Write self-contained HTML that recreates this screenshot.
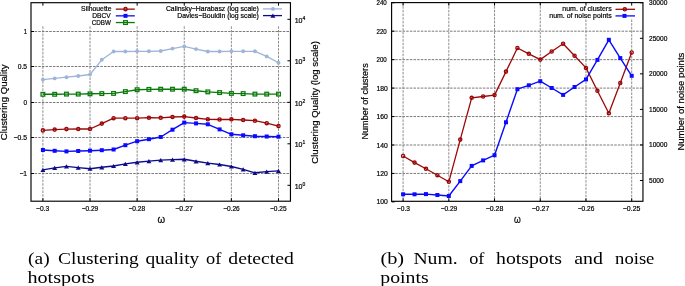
<!DOCTYPE html><html><head><meta charset="utf-8"><style>html,body{margin:0;padding:0;background:#fff;width:685px;height:286px;overflow:hidden}svg{display:block}.s text{font-family:"Liberation Sans",Arial,sans-serif;fill:#000;stroke:#000;stroke-width:0.2px}.s text.cap{font-family:"Liberation Serif","DejaVu Serif",serif;fill:#000;stroke:none}</style></head><body>
<svg class="s" width="685" height="286" viewBox="0 0 685 286">
<g id="gfx">
<line x1="42.90" y1="26.3" x2="42.90" y2="201.2" stroke="#8c8c8c" stroke-width="1" stroke-dasharray="2.5,1.15"/>
<line x1="90.02" y1="26.3" x2="90.02" y2="201.2" stroke="#8c8c8c" stroke-width="1" stroke-dasharray="2.5,1.15"/>
<line x1="137.14" y1="26.3" x2="137.14" y2="201.2" stroke="#8c8c8c" stroke-width="1" stroke-dasharray="2.5,1.15"/>
<line x1="184.26" y1="26.3" x2="184.26" y2="201.2" stroke="#8c8c8c" stroke-width="1" stroke-dasharray="2.5,1.15"/>
<line x1="231.38" y1="26.3" x2="231.38" y2="201.2" stroke="#8c8c8c" stroke-width="1" stroke-dasharray="2.5,1.15"/>
<line x1="278.50" y1="26.3" x2="278.50" y2="201.2" stroke="#8c8c8c" stroke-width="1" stroke-dasharray="2.5,1.15"/>
<line x1="31.0" y1="31.50" x2="290.45" y2="31.50" stroke="#7a7a7a" stroke-width="1" stroke-dasharray="2.5,1.15"/>
<line x1="31.0" y1="66.50" x2="290.45" y2="66.50" stroke="#7a7a7a" stroke-width="1" stroke-dasharray="2.5,1.15"/>
<line x1="31.0" y1="102.50" x2="290.45" y2="102.50" stroke="#7a7a7a" stroke-width="1" stroke-dasharray="2.5,1.15"/>
<line x1="31.0" y1="137.50" x2="290.45" y2="137.50" stroke="#7a7a7a" stroke-width="1" stroke-dasharray="2.5,1.15"/>
<line x1="31.0" y1="173.50" x2="290.45" y2="173.50" stroke="#7a7a7a" stroke-width="1" stroke-dasharray="2.5,1.15"/>
<polyline points="42.90,79.60 54.68,78.40 66.46,77.20 78.24,76.00 90.02,74.50 101.80,59.80 113.58,51.50 125.36,51.50 137.14,51.30 148.92,51.30 160.70,51.00 172.48,48.60 184.26,46.40 196.04,49.10 207.82,51.50 219.60,51.50 231.38,51.30 243.16,51.30 254.94,51.30 266.72,56.40 278.50,62.80" fill="none" stroke="#9fb5d8" stroke-width="1.3" stroke-linejoin="round"/>
<circle cx="42.90" cy="79.60" r="1.95" fill="#9fb5d8"/>
<circle cx="54.68" cy="78.40" r="1.95" fill="#9fb5d8"/>
<circle cx="66.46" cy="77.20" r="1.95" fill="#9fb5d8"/>
<circle cx="78.24" cy="76.00" r="1.95" fill="#9fb5d8"/>
<circle cx="90.02" cy="74.50" r="1.95" fill="#9fb5d8"/>
<circle cx="101.80" cy="59.80" r="1.95" fill="#9fb5d8"/>
<circle cx="113.58" cy="51.50" r="1.95" fill="#9fb5d8"/>
<circle cx="125.36" cy="51.50" r="1.95" fill="#9fb5d8"/>
<circle cx="137.14" cy="51.30" r="1.95" fill="#9fb5d8"/>
<circle cx="148.92" cy="51.30" r="1.95" fill="#9fb5d8"/>
<circle cx="160.70" cy="51.00" r="1.95" fill="#9fb5d8"/>
<circle cx="172.48" cy="48.60" r="1.95" fill="#9fb5d8"/>
<circle cx="184.26" cy="46.40" r="1.95" fill="#9fb5d8"/>
<circle cx="196.04" cy="49.10" r="1.95" fill="#9fb5d8"/>
<circle cx="207.82" cy="51.50" r="1.95" fill="#9fb5d8"/>
<circle cx="219.60" cy="51.50" r="1.95" fill="#9fb5d8"/>
<circle cx="231.38" cy="51.30" r="1.95" fill="#9fb5d8"/>
<circle cx="243.16" cy="51.30" r="1.95" fill="#9fb5d8"/>
<circle cx="254.94" cy="51.30" r="1.95" fill="#9fb5d8"/>
<circle cx="266.72" cy="56.40" r="1.95" fill="#9fb5d8"/>
<circle cx="278.50" cy="62.80" r="1.95" fill="#9fb5d8"/>
<polyline points="42.90,94.30 54.68,94.30 66.46,94.10 78.24,94.10 90.02,93.80 101.80,93.60 113.58,93.40 125.36,91.60 137.14,89.70 148.92,89.40 160.70,89.20 172.48,89.20 184.26,89.20 196.04,90.70 207.82,91.90 219.60,92.60 231.38,93.40 243.16,93.60 254.94,94.10 266.72,94.10 278.50,94.10" fill="none" stroke="#087a08" stroke-width="1.4" stroke-linejoin="round"/>
<rect x="41.05" y="92.45" width="3.7" height="3.7" fill="none" stroke="#087a08" stroke-width="1.25"/>
<rect x="52.83" y="92.45" width="3.7" height="3.7" fill="none" stroke="#087a08" stroke-width="1.25"/>
<rect x="64.61" y="92.25" width="3.7" height="3.7" fill="none" stroke="#087a08" stroke-width="1.25"/>
<rect x="76.39" y="92.25" width="3.7" height="3.7" fill="none" stroke="#087a08" stroke-width="1.25"/>
<rect x="88.17" y="91.95" width="3.7" height="3.7" fill="none" stroke="#087a08" stroke-width="1.25"/>
<rect x="99.95" y="91.75" width="3.7" height="3.7" fill="none" stroke="#087a08" stroke-width="1.25"/>
<rect x="111.73" y="91.55" width="3.7" height="3.7" fill="none" stroke="#087a08" stroke-width="1.25"/>
<rect x="123.51" y="89.75" width="3.7" height="3.7" fill="none" stroke="#087a08" stroke-width="1.25"/>
<rect x="135.29" y="87.85" width="3.7" height="3.7" fill="none" stroke="#087a08" stroke-width="1.25"/>
<rect x="147.07" y="87.55" width="3.7" height="3.7" fill="none" stroke="#087a08" stroke-width="1.25"/>
<rect x="158.85" y="87.35" width="3.7" height="3.7" fill="none" stroke="#087a08" stroke-width="1.25"/>
<rect x="170.63" y="87.35" width="3.7" height="3.7" fill="none" stroke="#087a08" stroke-width="1.25"/>
<rect x="182.41" y="87.35" width="3.7" height="3.7" fill="none" stroke="#087a08" stroke-width="1.25"/>
<rect x="194.19" y="88.85" width="3.7" height="3.7" fill="none" stroke="#087a08" stroke-width="1.25"/>
<rect x="205.97" y="90.05" width="3.7" height="3.7" fill="none" stroke="#087a08" stroke-width="1.25"/>
<rect x="217.75" y="90.75" width="3.7" height="3.7" fill="none" stroke="#087a08" stroke-width="1.25"/>
<rect x="229.53" y="91.55" width="3.7" height="3.7" fill="none" stroke="#087a08" stroke-width="1.25"/>
<rect x="241.31" y="91.75" width="3.7" height="3.7" fill="none" stroke="#087a08" stroke-width="1.25"/>
<rect x="253.09" y="92.25" width="3.7" height="3.7" fill="none" stroke="#087a08" stroke-width="1.25"/>
<rect x="264.87" y="92.25" width="3.7" height="3.7" fill="none" stroke="#087a08" stroke-width="1.25"/>
<rect x="276.65" y="92.25" width="3.7" height="3.7" fill="none" stroke="#087a08" stroke-width="1.25"/>
<polyline points="42.90,130.40 54.68,129.60 66.46,129.10 78.24,129.00 90.02,129.00 101.80,123.60 113.58,118.20 125.36,118.20 137.14,118.20 148.92,117.70 160.70,117.80 172.48,117.00 184.26,116.60 196.04,118.00 207.82,119.30 219.60,119.50 231.38,119.30 243.16,120.00 254.94,120.70 266.72,123.20 278.50,126.10" fill="none" stroke="#9c0808" stroke-width="1.3" stroke-linejoin="round"/>
<circle cx="42.90" cy="130.40" r="1.6" fill="none" stroke="#9c0808" stroke-width="1.35"/>
<circle cx="54.68" cy="129.60" r="1.6" fill="none" stroke="#9c0808" stroke-width="1.35"/>
<circle cx="66.46" cy="129.10" r="1.6" fill="none" stroke="#9c0808" stroke-width="1.35"/>
<circle cx="78.24" cy="129.00" r="1.6" fill="none" stroke="#9c0808" stroke-width="1.35"/>
<circle cx="90.02" cy="129.00" r="1.6" fill="none" stroke="#9c0808" stroke-width="1.35"/>
<circle cx="101.80" cy="123.60" r="1.6" fill="none" stroke="#9c0808" stroke-width="1.35"/>
<circle cx="113.58" cy="118.20" r="1.6" fill="none" stroke="#9c0808" stroke-width="1.35"/>
<circle cx="125.36" cy="118.20" r="1.6" fill="none" stroke="#9c0808" stroke-width="1.35"/>
<circle cx="137.14" cy="118.20" r="1.6" fill="none" stroke="#9c0808" stroke-width="1.35"/>
<circle cx="148.92" cy="117.70" r="1.6" fill="none" stroke="#9c0808" stroke-width="1.35"/>
<circle cx="160.70" cy="117.80" r="1.6" fill="none" stroke="#9c0808" stroke-width="1.35"/>
<circle cx="172.48" cy="117.00" r="1.6" fill="none" stroke="#9c0808" stroke-width="1.35"/>
<circle cx="184.26" cy="116.60" r="1.6" fill="none" stroke="#9c0808" stroke-width="1.35"/>
<circle cx="196.04" cy="118.00" r="1.6" fill="none" stroke="#9c0808" stroke-width="1.35"/>
<circle cx="207.82" cy="119.30" r="1.6" fill="none" stroke="#9c0808" stroke-width="1.35"/>
<circle cx="219.60" cy="119.50" r="1.6" fill="none" stroke="#9c0808" stroke-width="1.35"/>
<circle cx="231.38" cy="119.30" r="1.6" fill="none" stroke="#9c0808" stroke-width="1.35"/>
<circle cx="243.16" cy="120.00" r="1.6" fill="none" stroke="#9c0808" stroke-width="1.35"/>
<circle cx="254.94" cy="120.70" r="1.6" fill="none" stroke="#9c0808" stroke-width="1.35"/>
<circle cx="266.72" cy="123.20" r="1.6" fill="none" stroke="#9c0808" stroke-width="1.35"/>
<circle cx="278.50" cy="126.10" r="1.6" fill="none" stroke="#9c0808" stroke-width="1.35"/>
<polyline points="42.90,150.00 54.68,150.80 66.46,151.40 78.24,151.00 90.02,150.70 101.80,150.20 113.58,149.50 125.36,145.20 137.14,141.20 148.92,139.20 160.70,137.00 172.48,129.70 184.26,122.60 196.04,123.40 207.82,124.30 219.60,129.40 231.38,134.30 243.16,135.30 254.94,136.20 266.72,136.50 278.50,136.70" fill="none" stroke="#0a0aff" stroke-width="1.4" stroke-linejoin="round"/>
<rect x="40.90" y="148.00" width="4.0" height="4.0" fill="#0a0aff"/>
<rect x="52.68" y="148.80" width="4.0" height="4.0" fill="#0a0aff"/>
<rect x="64.46" y="149.40" width="4.0" height="4.0" fill="#0a0aff"/>
<rect x="76.24" y="149.00" width="4.0" height="4.0" fill="#0a0aff"/>
<rect x="88.02" y="148.70" width="4.0" height="4.0" fill="#0a0aff"/>
<rect x="99.80" y="148.20" width="4.0" height="4.0" fill="#0a0aff"/>
<rect x="111.58" y="147.50" width="4.0" height="4.0" fill="#0a0aff"/>
<rect x="123.36" y="143.20" width="4.0" height="4.0" fill="#0a0aff"/>
<rect x="135.14" y="139.20" width="4.0" height="4.0" fill="#0a0aff"/>
<rect x="146.92" y="137.20" width="4.0" height="4.0" fill="#0a0aff"/>
<rect x="158.70" y="135.00" width="4.0" height="4.0" fill="#0a0aff"/>
<rect x="170.48" y="127.70" width="4.0" height="4.0" fill="#0a0aff"/>
<rect x="182.26" y="120.60" width="4.0" height="4.0" fill="#0a0aff"/>
<rect x="194.04" y="121.40" width="4.0" height="4.0" fill="#0a0aff"/>
<rect x="205.82" y="122.30" width="4.0" height="4.0" fill="#0a0aff"/>
<rect x="217.60" y="127.40" width="4.0" height="4.0" fill="#0a0aff"/>
<rect x="229.38" y="132.30" width="4.0" height="4.0" fill="#0a0aff"/>
<rect x="241.16" y="133.30" width="4.0" height="4.0" fill="#0a0aff"/>
<rect x="252.94" y="134.20" width="4.0" height="4.0" fill="#0a0aff"/>
<rect x="264.72" y="134.50" width="4.0" height="4.0" fill="#0a0aff"/>
<rect x="276.50" y="134.70" width="4.0" height="4.0" fill="#0a0aff"/>
<polyline points="42.90,169.90 54.68,167.90 66.46,166.40 78.24,167.60 90.02,168.70 101.80,167.30 113.58,166.00 125.36,163.90 137.14,162.30 148.92,161.10 160.70,160.10 172.48,159.60 184.26,159.30 196.04,161.30 207.82,163.10 219.60,164.50 231.38,166.50 243.16,169.40 254.94,172.80 266.72,171.60 278.50,170.90" fill="none" stroke="#0c0c8a" stroke-width="1.4" stroke-linejoin="round"/>
<polygon points="40.40,172.00 45.40,172.00 42.90,167.80" fill="#0c0c8a"/>
<polygon points="52.18,170.00 57.18,170.00 54.68,165.80" fill="#0c0c8a"/>
<polygon points="63.96,168.50 68.96,168.50 66.46,164.30" fill="#0c0c8a"/>
<polygon points="75.74,169.70 80.74,169.70 78.24,165.50" fill="#0c0c8a"/>
<polygon points="87.52,170.80 92.52,170.80 90.02,166.60" fill="#0c0c8a"/>
<polygon points="99.30,169.40 104.30,169.40 101.80,165.20" fill="#0c0c8a"/>
<polygon points="111.08,168.10 116.08,168.10 113.58,163.90" fill="#0c0c8a"/>
<polygon points="122.86,166.00 127.86,166.00 125.36,161.80" fill="#0c0c8a"/>
<polygon points="134.64,164.40 139.64,164.40 137.14,160.20" fill="#0c0c8a"/>
<polygon points="146.42,163.20 151.42,163.20 148.92,159.00" fill="#0c0c8a"/>
<polygon points="158.20,162.20 163.20,162.20 160.70,158.00" fill="#0c0c8a"/>
<polygon points="169.98,161.70 174.98,161.70 172.48,157.50" fill="#0c0c8a"/>
<polygon points="181.76,161.40 186.76,161.40 184.26,157.20" fill="#0c0c8a"/>
<polygon points="193.54,163.40 198.54,163.40 196.04,159.20" fill="#0c0c8a"/>
<polygon points="205.32,165.20 210.32,165.20 207.82,161.00" fill="#0c0c8a"/>
<polygon points="217.10,166.60 222.10,166.60 219.60,162.40" fill="#0c0c8a"/>
<polygon points="228.88,168.60 233.88,168.60 231.38,164.40" fill="#0c0c8a"/>
<polygon points="240.66,171.50 245.66,171.50 243.16,167.30" fill="#0c0c8a"/>
<polygon points="252.44,174.90 257.44,174.90 254.94,170.70" fill="#0c0c8a"/>
<polygon points="264.22,173.70 269.22,173.70 266.72,169.50" fill="#0c0c8a"/>
<polygon points="276.00,173.00 281.00,173.00 278.50,168.80" fill="#0c0c8a"/>
<rect x="31.0" y="2.7" width="259.45" height="198.50" fill="none" stroke="#000" stroke-width="1.15"/>
<line x1="42.90" y1="201.2" x2="42.90" y2="198.2" stroke="#000" stroke-width="1"/>
<line x1="42.90" y1="2.7" x2="42.90" y2="5.7" stroke="#000" stroke-width="1"/>
<line x1="90.02" y1="201.2" x2="90.02" y2="198.2" stroke="#000" stroke-width="1"/>
<line x1="90.02" y1="2.7" x2="90.02" y2="5.7" stroke="#000" stroke-width="1"/>
<line x1="137.14" y1="201.2" x2="137.14" y2="198.2" stroke="#000" stroke-width="1"/>
<line x1="137.14" y1="2.7" x2="137.14" y2="5.7" stroke="#000" stroke-width="1"/>
<line x1="184.26" y1="201.2" x2="184.26" y2="198.2" stroke="#000" stroke-width="1"/>
<line x1="184.26" y1="2.7" x2="184.26" y2="5.7" stroke="#000" stroke-width="1"/>
<line x1="231.38" y1="201.2" x2="231.38" y2="198.2" stroke="#000" stroke-width="1"/>
<line x1="231.38" y1="2.7" x2="231.38" y2="5.7" stroke="#000" stroke-width="1"/>
<line x1="278.50" y1="201.2" x2="278.50" y2="198.2" stroke="#000" stroke-width="1"/>
<line x1="278.50" y1="2.7" x2="278.50" y2="5.7" stroke="#000" stroke-width="1"/>
<line x1="31.0" y1="31.50" x2="34.0" y2="31.50" stroke="#000" stroke-width="1"/>
<line x1="31.0" y1="66.50" x2="34.0" y2="66.50" stroke="#000" stroke-width="1"/>
<line x1="31.0" y1="102.50" x2="34.0" y2="102.50" stroke="#000" stroke-width="1"/>
<line x1="31.0" y1="137.50" x2="34.0" y2="137.50" stroke="#000" stroke-width="1"/>
<line x1="31.0" y1="173.50" x2="34.0" y2="173.50" stroke="#000" stroke-width="1"/>
<line x1="290.45" y1="185.30" x2="287.45" y2="185.30" stroke="#000" stroke-width="1"/>
<line x1="290.45" y1="143.80" x2="287.45" y2="143.80" stroke="#000" stroke-width="1"/>
<line x1="290.45" y1="102.30" x2="287.45" y2="102.30" stroke="#000" stroke-width="1"/>
<line x1="290.45" y1="60.80" x2="287.45" y2="60.80" stroke="#000" stroke-width="1"/>
<line x1="290.45" y1="19.30" x2="287.45" y2="19.30" stroke="#000" stroke-width="1"/>
<line x1="115.8" y1="9.15" x2="134.8" y2="9.15" stroke="#9c0808" stroke-width="1.3"/>
<circle cx="125.50" cy="9.15" r="1.6" fill="none" stroke="#9c0808" stroke-width="1.35"/>
<line x1="115.8" y1="15.85" x2="134.8" y2="15.85" stroke="#0a0aff" stroke-width="1.3"/>
<rect x="123.50" y="13.85" width="4.0" height="4.0" fill="#0a0aff"/>
<line x1="115.8" y1="22.55" x2="134.8" y2="22.55" stroke="#087a08" stroke-width="1.3"/>
<rect x="123.65" y="20.70" width="3.7" height="3.7" fill="none" stroke="#087a08" stroke-width="1.25"/>
<line x1="263" y1="8.90" x2="282" y2="8.90" stroke="#9fb5d8" stroke-width="1.3"/>
<circle cx="272.90" cy="8.90" r="1.95" fill="#9fb5d8"/>
<line x1="263" y1="15.60" x2="282" y2="15.60" stroke="#0c0c8a" stroke-width="1.3"/>
<polygon points="270.40,17.70 275.40,17.70 272.90,13.50" fill="#0c0c8a"/>
<line x1="403.10" y1="2.6" x2="403.10" y2="201.3" stroke="#8c8c8c" stroke-width="1" stroke-dasharray="2.5,1.15"/>
<line x1="448.82" y1="2.6" x2="448.82" y2="201.3" stroke="#8c8c8c" stroke-width="1" stroke-dasharray="2.5,1.15"/>
<line x1="494.54" y1="2.6" x2="494.54" y2="201.3" stroke="#8c8c8c" stroke-width="1" stroke-dasharray="2.5,1.15"/>
<line x1="540.26" y1="2.6" x2="540.26" y2="201.3" stroke="#8c8c8c" stroke-width="1" stroke-dasharray="2.5,1.15"/>
<line x1="585.98" y1="19.5" x2="585.98" y2="201.3" stroke="#8c8c8c" stroke-width="1" stroke-dasharray="2.5,1.15"/>
<line x1="631.70" y1="19.5" x2="631.70" y2="201.3" stroke="#8c8c8c" stroke-width="1" stroke-dasharray="2.5,1.15"/>
<line x1="391.6" y1="173.45" x2="642.95" y2="173.45" stroke="#7a7a7a" stroke-width="1" stroke-dasharray="2.5,1.15"/>
<line x1="391.6" y1="145.00" x2="642.95" y2="145.00" stroke="#7a7a7a" stroke-width="1" stroke-dasharray="2.5,1.15"/>
<line x1="391.6" y1="116.55" x2="642.95" y2="116.55" stroke="#7a7a7a" stroke-width="1" stroke-dasharray="2.5,1.15"/>
<line x1="391.6" y1="88.10" x2="642.95" y2="88.10" stroke="#7a7a7a" stroke-width="1" stroke-dasharray="2.5,1.15"/>
<line x1="391.6" y1="59.65" x2="642.95" y2="59.65" stroke="#7a7a7a" stroke-width="1" stroke-dasharray="2.5,1.15"/>
<line x1="391.6" y1="31.20" x2="642.95" y2="31.20" stroke="#7a7a7a" stroke-width="1" stroke-dasharray="2.5,1.15"/>
<polyline points="403.10,156.00 414.53,162.60 425.96,168.80 437.39,175.20 448.82,181.80 460.25,139.60 471.68,97.80 483.11,96.50 494.54,95.10 505.97,71.60 517.40,48.00 528.83,53.80 540.26,59.60 551.69,51.50 563.12,43.70 574.55,55.70 585.98,67.90 597.41,90.80 608.84,113.20 620.27,82.90 631.70,52.50" fill="none" stroke="#9c0808" stroke-width="1.3" stroke-linejoin="round"/>
<circle cx="403.10" cy="156.00" r="1.6" fill="none" stroke="#9c0808" stroke-width="1.35"/>
<circle cx="414.53" cy="162.60" r="1.6" fill="none" stroke="#9c0808" stroke-width="1.35"/>
<circle cx="425.96" cy="168.80" r="1.6" fill="none" stroke="#9c0808" stroke-width="1.35"/>
<circle cx="437.39" cy="175.20" r="1.6" fill="none" stroke="#9c0808" stroke-width="1.35"/>
<circle cx="448.82" cy="181.80" r="1.6" fill="none" stroke="#9c0808" stroke-width="1.35"/>
<circle cx="460.25" cy="139.60" r="1.6" fill="none" stroke="#9c0808" stroke-width="1.35"/>
<circle cx="471.68" cy="97.80" r="1.6" fill="none" stroke="#9c0808" stroke-width="1.35"/>
<circle cx="483.11" cy="96.50" r="1.6" fill="none" stroke="#9c0808" stroke-width="1.35"/>
<circle cx="494.54" cy="95.10" r="1.6" fill="none" stroke="#9c0808" stroke-width="1.35"/>
<circle cx="505.97" cy="71.60" r="1.6" fill="none" stroke="#9c0808" stroke-width="1.35"/>
<circle cx="517.40" cy="48.00" r="1.6" fill="none" stroke="#9c0808" stroke-width="1.35"/>
<circle cx="528.83" cy="53.80" r="1.6" fill="none" stroke="#9c0808" stroke-width="1.35"/>
<circle cx="540.26" cy="59.60" r="1.6" fill="none" stroke="#9c0808" stroke-width="1.35"/>
<circle cx="551.69" cy="51.50" r="1.6" fill="none" stroke="#9c0808" stroke-width="1.35"/>
<circle cx="563.12" cy="43.70" r="1.6" fill="none" stroke="#9c0808" stroke-width="1.35"/>
<circle cx="574.55" cy="55.70" r="1.6" fill="none" stroke="#9c0808" stroke-width="1.35"/>
<circle cx="585.98" cy="67.90" r="1.6" fill="none" stroke="#9c0808" stroke-width="1.35"/>
<circle cx="597.41" cy="90.80" r="1.6" fill="none" stroke="#9c0808" stroke-width="1.35"/>
<circle cx="608.84" cy="113.20" r="1.6" fill="none" stroke="#9c0808" stroke-width="1.35"/>
<circle cx="620.27" cy="82.90" r="1.6" fill="none" stroke="#9c0808" stroke-width="1.35"/>
<circle cx="631.70" cy="52.50" r="1.6" fill="none" stroke="#9c0808" stroke-width="1.35"/>
<polyline points="403.10,194.30 414.53,194.30 425.96,194.10 437.39,195.00 448.82,196.00 460.25,181.10 471.68,165.90 483.11,160.40 494.54,155.20 505.97,122.30 517.40,89.20 528.83,85.30 540.26,81.20 551.69,88.00 563.12,94.90 574.55,87.00 585.98,79.40 597.41,59.90 608.84,39.80 620.27,58.10 631.70,75.80" fill="none" stroke="#0a0aff" stroke-width="1.4" stroke-linejoin="round"/>
<rect x="401.10" y="192.30" width="4.0" height="4.0" fill="#0a0aff"/>
<rect x="412.53" y="192.30" width="4.0" height="4.0" fill="#0a0aff"/>
<rect x="423.96" y="192.10" width="4.0" height="4.0" fill="#0a0aff"/>
<rect x="435.39" y="193.00" width="4.0" height="4.0" fill="#0a0aff"/>
<rect x="446.82" y="194.00" width="4.0" height="4.0" fill="#0a0aff"/>
<rect x="458.25" y="179.10" width="4.0" height="4.0" fill="#0a0aff"/>
<rect x="469.68" y="163.90" width="4.0" height="4.0" fill="#0a0aff"/>
<rect x="481.11" y="158.40" width="4.0" height="4.0" fill="#0a0aff"/>
<rect x="492.54" y="153.20" width="4.0" height="4.0" fill="#0a0aff"/>
<rect x="503.97" y="120.30" width="4.0" height="4.0" fill="#0a0aff"/>
<rect x="515.40" y="87.20" width="4.0" height="4.0" fill="#0a0aff"/>
<rect x="526.83" y="83.30" width="4.0" height="4.0" fill="#0a0aff"/>
<rect x="538.26" y="79.20" width="4.0" height="4.0" fill="#0a0aff"/>
<rect x="549.69" y="86.00" width="4.0" height="4.0" fill="#0a0aff"/>
<rect x="561.12" y="92.90" width="4.0" height="4.0" fill="#0a0aff"/>
<rect x="572.55" y="85.00" width="4.0" height="4.0" fill="#0a0aff"/>
<rect x="583.98" y="77.40" width="4.0" height="4.0" fill="#0a0aff"/>
<rect x="595.41" y="57.90" width="4.0" height="4.0" fill="#0a0aff"/>
<rect x="606.84" y="37.80" width="4.0" height="4.0" fill="#0a0aff"/>
<rect x="618.27" y="56.10" width="4.0" height="4.0" fill="#0a0aff"/>
<rect x="629.70" y="73.80" width="4.0" height="4.0" fill="#0a0aff"/>
<rect x="391.6" y="2.6" width="251.35" height="198.70" fill="none" stroke="#000" stroke-width="1.15"/>
<line x1="403.10" y1="201.3" x2="403.10" y2="198.3" stroke="#000" stroke-width="1"/>
<line x1="403.10" y1="2.6" x2="403.10" y2="5.6" stroke="#000" stroke-width="1"/>
<line x1="448.82" y1="201.3" x2="448.82" y2="198.3" stroke="#000" stroke-width="1"/>
<line x1="448.82" y1="2.6" x2="448.82" y2="5.6" stroke="#000" stroke-width="1"/>
<line x1="494.54" y1="201.3" x2="494.54" y2="198.3" stroke="#000" stroke-width="1"/>
<line x1="494.54" y1="2.6" x2="494.54" y2="5.6" stroke="#000" stroke-width="1"/>
<line x1="540.26" y1="201.3" x2="540.26" y2="198.3" stroke="#000" stroke-width="1"/>
<line x1="540.26" y1="2.6" x2="540.26" y2="5.6" stroke="#000" stroke-width="1"/>
<line x1="585.98" y1="201.3" x2="585.98" y2="198.3" stroke="#000" stroke-width="1"/>
<line x1="585.98" y1="2.6" x2="585.98" y2="5.6" stroke="#000" stroke-width="1"/>
<line x1="631.70" y1="201.3" x2="631.70" y2="198.3" stroke="#000" stroke-width="1"/>
<line x1="631.70" y1="2.6" x2="631.70" y2="5.6" stroke="#000" stroke-width="1"/>
<line x1="391.6" y1="201.90" x2="394.6" y2="201.90" stroke="#000" stroke-width="1"/>
<line x1="391.6" y1="173.45" x2="394.6" y2="173.45" stroke="#000" stroke-width="1"/>
<line x1="391.6" y1="145.00" x2="394.6" y2="145.00" stroke="#000" stroke-width="1"/>
<line x1="391.6" y1="116.55" x2="394.6" y2="116.55" stroke="#000" stroke-width="1"/>
<line x1="391.6" y1="88.10" x2="394.6" y2="88.10" stroke="#000" stroke-width="1"/>
<line x1="391.6" y1="59.65" x2="394.6" y2="59.65" stroke="#000" stroke-width="1"/>
<line x1="391.6" y1="31.20" x2="394.6" y2="31.20" stroke="#000" stroke-width="1"/>
<line x1="391.6" y1="2.75" x2="394.6" y2="2.75" stroke="#000" stroke-width="1"/>
<line x1="642.95" y1="180.50" x2="639.95" y2="180.50" stroke="#000" stroke-width="1"/>
<line x1="642.95" y1="144.95" x2="639.95" y2="144.95" stroke="#000" stroke-width="1"/>
<line x1="642.95" y1="109.40" x2="639.95" y2="109.40" stroke="#000" stroke-width="1"/>
<line x1="642.95" y1="73.85" x2="639.95" y2="73.85" stroke="#000" stroke-width="1"/>
<line x1="642.95" y1="38.30" x2="639.95" y2="38.30" stroke="#000" stroke-width="1"/>
<line x1="642.95" y1="2.75" x2="639.95" y2="2.75" stroke="#000" stroke-width="1"/>
<line x1="615.5" y1="9.30" x2="635" y2="9.30" stroke="#9c0808" stroke-width="1.3"/>
<circle cx="624.80" cy="9.30" r="1.6" fill="none" stroke="#9c0808" stroke-width="1.35"/>
<line x1="615.5" y1="15.90" x2="635" y2="15.90" stroke="#0a0aff" stroke-width="1.3"/>
<rect x="622.50" y="13.90" width="4.0" height="4.0" fill="#0a0aff"/>
</g>
<g id="txt">
<text x="23.70" y="34.00" font-size="7.0" textLength="3.30" lengthAdjust="spacingAndGlyphs">1</text>
<text x="17.70" y="69.00" font-size="7.0" textLength="9.30" lengthAdjust="spacingAndGlyphs">0.5</text>
<text x="23.40" y="105.00" font-size="7.0" textLength="3.60" lengthAdjust="spacingAndGlyphs">0</text>
<text x="13.50" y="140.00" font-size="7.0" textLength="13.50" lengthAdjust="spacingAndGlyphs">−0.5</text>
<text x="19.40" y="176.00" font-size="7.0" textLength="7.60" lengthAdjust="spacingAndGlyphs">−1</text>
<text x="36.05" y="211.00" font-size="7.0" textLength="13.10" lengthAdjust="spacingAndGlyphs">−0.3</text>
<text x="81.64" y="211.00" font-size="7.0" textLength="16.60" lengthAdjust="spacingAndGlyphs">−0.29</text>
<text x="128.48" y="211.00" font-size="7.0" textLength="16.60" lengthAdjust="spacingAndGlyphs">−0.28</text>
<text x="175.32" y="211.00" font-size="7.0" textLength="17.60" lengthAdjust="spacingAndGlyphs">−0.27</text>
<text x="223.16" y="211.00" font-size="7.0" textLength="16.60" lengthAdjust="spacingAndGlyphs">−0.26</text>
<text x="270.00" y="211.00" font-size="7.0" textLength="16.60" lengthAdjust="spacingAndGlyphs">−0.25</text>
<text x="396.85" y="211.00" font-size="7.0" textLength="13.10" lengthAdjust="spacingAndGlyphs">−0.3</text>
<text x="440.64" y="211.00" font-size="7.0" textLength="16.60" lengthAdjust="spacingAndGlyphs">−0.29</text>
<text x="485.68" y="211.00" font-size="7.0" textLength="17.60" lengthAdjust="spacingAndGlyphs">−0.28</text>
<text x="531.72" y="211.00" font-size="7.0" textLength="17.60" lengthAdjust="spacingAndGlyphs">−0.27</text>
<text x="577.76" y="211.00" font-size="7.0" textLength="16.60" lengthAdjust="spacingAndGlyphs">−0.26</text>
<text x="622.80" y="211.00" font-size="7.0" textLength="17.60" lengthAdjust="spacingAndGlyphs">−0.25</text>
<text x="376.50" y="204.00" font-size="7.0" textLength="11.30" lengthAdjust="spacingAndGlyphs">100</text>
<text x="376.50" y="176.00" font-size="7.0" textLength="11.30" lengthAdjust="spacingAndGlyphs">120</text>
<text x="376.50" y="148.00" font-size="7.0" textLength="11.30" lengthAdjust="spacingAndGlyphs">140</text>
<text x="376.50" y="119.00" font-size="7.0" textLength="11.30" lengthAdjust="spacingAndGlyphs">160</text>
<text x="376.50" y="91.00" font-size="7.0" textLength="11.30" lengthAdjust="spacingAndGlyphs">180</text>
<text x="376.50" y="62.00" font-size="7.0" textLength="10.30" lengthAdjust="spacingAndGlyphs">200</text>
<text x="376.50" y="34.00" font-size="7.0" textLength="10.30" lengthAdjust="spacingAndGlyphs">220</text>
<text x="376.50" y="5.00" font-size="7.0" textLength="10.30" lengthAdjust="spacingAndGlyphs">240</text>
<text x="649.00" y="183.00" font-size="7.0" textLength="14.70" lengthAdjust="spacingAndGlyphs">5000</text>
<text x="649.00" y="147.00" font-size="7.0" textLength="18.30" lengthAdjust="spacingAndGlyphs">10000</text>
<text x="649.00" y="112.00" font-size="7.0" textLength="18.30" lengthAdjust="spacingAndGlyphs">15000</text>
<text x="649.00" y="76.00" font-size="7.0" textLength="18.30" lengthAdjust="spacingAndGlyphs">20000</text>
<text x="649.00" y="41.00" font-size="7.0" textLength="18.30" lengthAdjust="spacingAndGlyphs">25000</text>
<text x="649.00" y="5.00" font-size="7.0" textLength="18.30" lengthAdjust="spacingAndGlyphs">30000</text>
<text transform="translate(7.00,140.30) rotate(-90)" font-size="9.3" textLength="75.90" lengthAdjust="spacingAndGlyphs">Clustering Quality</text>
<text transform="translate(317.80,163.70) rotate(-90)" font-size="9.3" textLength="122.60" lengthAdjust="spacingAndGlyphs">Clustering Quality (log scale)</text>
<text transform="translate(368.10,139.50) rotate(-90)" font-size="9.3" textLength="76.20" lengthAdjust="spacingAndGlyphs">Number of clusters</text>
<text transform="translate(684.30,150.60) rotate(-90)" font-size="9.3" textLength="97.90" lengthAdjust="spacingAndGlyphs">Number of noise points</text>
<text x="157.40" y="223.00" font-size="10.5" textLength="7.60" lengthAdjust="spacingAndGlyphs">ω</text>
<text x="514.00" y="223.00" font-size="10.5" textLength="6.80" lengthAdjust="spacingAndGlyphs">ω</text>
<text x="81.10" y="11.00" font-size="7.0" textLength="30.40" lengthAdjust="spacingAndGlyphs">Silhouette</text>
<text x="92.30" y="18.00" font-size="7.0" textLength="18.40" lengthAdjust="spacingAndGlyphs">DBCV</text>
<text x="91.70" y="25.00" font-size="7.0" textLength="19.10" lengthAdjust="spacingAndGlyphs">CDBW</text>
<text x="165.90" y="11.00" font-size="7.0" textLength="93.00" lengthAdjust="spacingAndGlyphs">Calinsky−Harabasz (log scale)</text>
<text x="177.20" y="18.00" font-size="7.0" textLength="81.70" lengthAdjust="spacingAndGlyphs">Davies−Bouldin (log scale)</text>
<text x="562.30" y="11.00" font-size="7.0" textLength="49.40" lengthAdjust="spacingAndGlyphs">num. of clusters</text>
<text x="549.30" y="18.00" font-size="7.0" textLength="62.40" lengthAdjust="spacingAndGlyphs">num. of noise points</text>
<text class="cap" x="28.10" y="264.00" font-size="17.4" textLength="21.60" lengthAdjust="spacingAndGlyphs">(a)</text>
<text class="cap" x="58.10" y="264.00" font-size="17.4" textLength="80.70" lengthAdjust="spacingAndGlyphs">Clustering</text>
<text class="cap" x="145.40" y="264.00" font-size="17.4" textLength="53.90" lengthAdjust="spacingAndGlyphs">quality</text>
<text class="cap" x="206.00" y="264.00" font-size="17.4" textLength="15.30" lengthAdjust="spacingAndGlyphs">of</text>
<text class="cap" x="228.30" y="264.00" font-size="17.4" textLength="65.60" lengthAdjust="spacingAndGlyphs">detected</text>
<text class="cap" x="27.40" y="283.00" font-size="17.4" textLength="67.20" lengthAdjust="spacingAndGlyphs">hotspots</text>
<text class="cap" x="380.40" y="264.00" font-size="17.4" textLength="23.70" lengthAdjust="spacingAndGlyphs">(b)</text>
<text class="cap" x="413.40" y="264.00" font-size="17.4" textLength="44.30" lengthAdjust="spacingAndGlyphs">Num.</text>
<text class="cap" x="469.20" y="264.00" font-size="17.4" textLength="15.20" lengthAdjust="spacingAndGlyphs">of</text>
<text class="cap" x="496.00" y="264.00" font-size="17.4" textLength="65.90" lengthAdjust="spacingAndGlyphs">hotspots</text>
<text class="cap" x="574.20" y="264.00" font-size="17.4" textLength="28.70" lengthAdjust="spacingAndGlyphs">and</text>
<text class="cap" x="615.10" y="264.00" font-size="17.4" textLength="39.30" lengthAdjust="spacingAndGlyphs">noise</text>
<text class="cap" x="380.30" y="283.00" font-size="17.4" textLength="48.30" lengthAdjust="spacingAndGlyphs">points</text>
<text x="294.7" y="189" font-size="7.0">10<tspan font-size="5" dy="-3">0</tspan></text>
<text x="294.7" y="147" font-size="7.0">10<tspan font-size="5" dy="-3">1</tspan></text>
<text x="294.7" y="106" font-size="7.0">10<tspan font-size="5" dy="-3">2</tspan></text>
<text x="294.7" y="64" font-size="7.0">10<tspan font-size="5" dy="-3">3</tspan></text>
<text x="294.7" y="23" font-size="7.0">10<tspan font-size="5" dy="-3">4</tspan></text>
</g>
</svg></body></html>
